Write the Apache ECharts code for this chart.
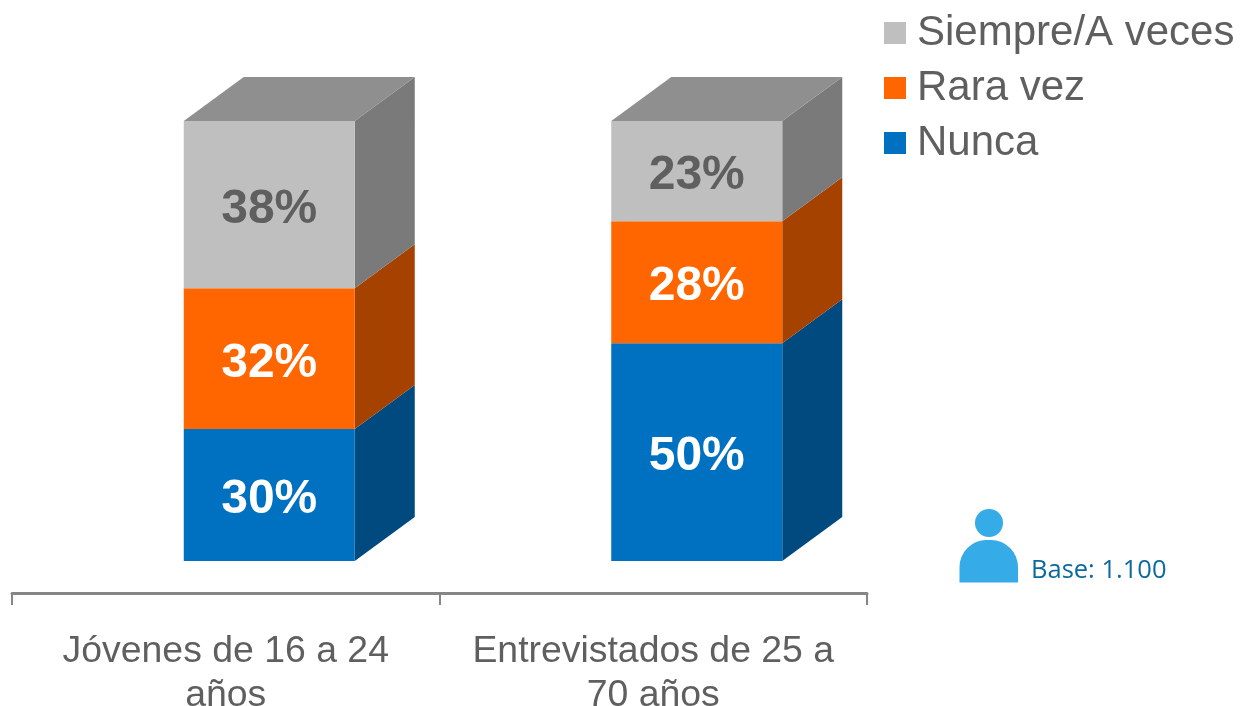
<!DOCTYPE html>
<html><head><meta charset="utf-8">
<style>html,body{margin:0;padding:0;background:#fff}#c{width:1240px;height:706px}</style>
<script src="https://cdn.jsdelivr.net/npm/echarts@6/dist/echarts.min.js"></script>
</head><body><div id="c"></div>
<script>
const categories = ['Jóvenes de 16 a 24\naños', 'Entrevistados de 25 a\n70 años'];
const nunca = [30, 50];
const raraVez = [32, 28];
const siempre = [38, 23];
const legendOrder = ['Siempre/A veces', 'Rara vez', 'Nunca'];

const stackSeries = [
  {name: 'Nunca', values: nunca, front: '#0070C0', side: '#004A7F', text: '#FFFFFF'},
  {name: 'Rara vez', values: raraVez, front: '#FF6600', side: '#A64200', text: '#FFFFFF'},
  {name: 'Siempre/A veces', values: siempre, front: '#BFBFBF', side: '#7A7A7A', top: '#8F8F8F', text: '#5F5F5F'}
];
const BAR_W = 171, DX = 60, DY = 44, OFFSET = 43.5;

const totals = categories.map((_, i) => stackSeries.reduce((s, d) => s + d.values[i], 0));
const running = categories.map(() => 0);

const series = stackSeries.map(s => {
  const data = s.values.map((v, i) => {
    const from = running[i] / totals[i] * 100;
    running[i] += v;
    return [i, from, running[i] / totals[i] * 100, v];
  });
  return {
    name: s.name, type: 'custom', data, itemStyle: {color: s.front},
    encode: {x: 0, y: [1, 2]}, silent: true,
    renderItem(params, api) {
      const b = api.coord([api.value(0), api.value(1)]);
      const t = api.coord([api.value(0), api.value(2)]);
      const x0 = b[0] + OFFSET - BAR_W / 2, x1 = x0 + BAR_W;
      const children = [
        {type: 'polygon', shape: {points: [[x1, t[1]], [x1 + DX, t[1] - DY], [x1 + DX, b[1] - DY], [x1, b[1]]]}, style: {fill: s.side}},
        {type: 'rect', shape: {x: x0, y: t[1], width: BAR_W, height: b[1] - t[1]}, style: {fill: s.front}}
      ];
      if (s.top) children.push({type: 'polygon', shape: {points: [[x0, t[1]], [x0 + DX, t[1] - DY], [x1 + DX, t[1] - DY], [x1, t[1]]]}, style: {fill: s.top}});
      children.push({type: 'text', style: {
        x: (x0 + x1) / 2, y: (t[1] + b[1]) / 2 + 5, text: api.value(3) + '%', align: 'center', verticalAlign: 'middle',
        font: 'bold 48px "Liberation Sans", Arial, sans-serif', fill: s.text}});
      return {type: 'group', children};
    }
  };
});

const chart = echarts.init(document.getElementById('c'), null, {renderer: 'canvas'});
chart.setOption({
  animation: false,
  backgroundColor: '#fff',
  grid: {left: 12, right: 373, top: 121, bottom: 145, containLabel: false, outerBoundsMode: 'none'},
  legend: {
    data: legendOrder, orient: 'vertical', left: 879, top: 4, icon: 'rect',
    itemWidth: 22, itemHeight: 22, itemGap: 7,
    textStyle: {color: '#5F5F5F', fontFamily: '"Liberation Sans", Arial, sans-serif', fontSize: 42, lineHeight: 48, padding: [0, 0, 0, 6]},
    selectedMode: false
  },
  xAxis: {
    type: 'category', data: categories, offset: 32, boundaryGap: true,
    axisLine: {show: true, onZero: false, lineStyle: {color: '#868686', width: 3}},
    axisTick: {show: true, alignWithLabel: false, length: 12, lineStyle: {color: '#868686', width: 2}},
    axisLabel: {color: '#5F5F5F', fontFamily: '"Liberation Sans", Arial, sans-serif', fontSize: 37.4, lineHeight: 44, margin: 37, interval: 0}
  },
  yAxis: {type: 'value', min: 0, max: 100, show: false, splitLine: {show: false}},
  series,
  graphic: [
    {type: 'circle', shape: {cx: 989, cy: 523, r: 14}, style: {fill: '#35ABE8'}},
    {type: 'rect', shape: {x: 959.5, y: 540, width: 58.5, height: 42.5, r: [27, 27, 0, 0]}, style: {fill: '#35ABE8'}},
    {type: 'text', left: 1031, top: 558, style: {text: 'Base: 1.100', font: '25.5px "Open Sans", sans-serif', fill: '#0A6A9E'}}
  ]
});
</script></body></html>
